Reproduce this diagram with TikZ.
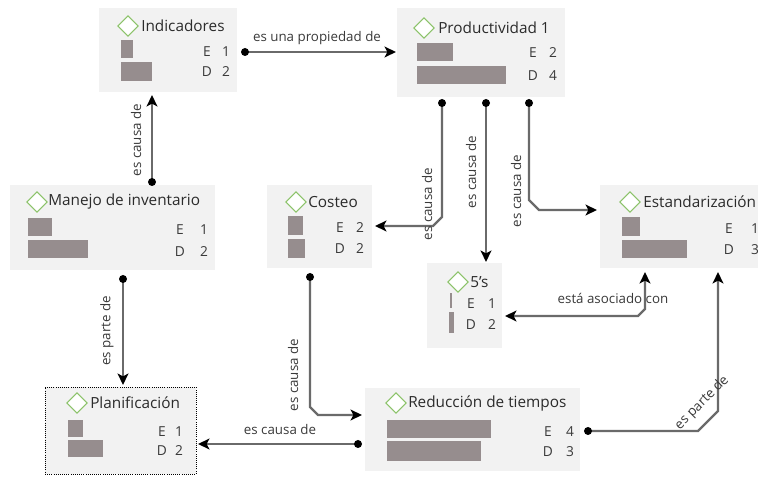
\documentclass[tikz,border=0pt]{standalone}
\usepackage{fontspec}
\setmainfont{Open Sans}
\usetikzlibrary{arrows.meta,fit,calc,shapes.geometric}

\definecolor{boxfill}{HTML}{F2F2F2}
\definecolor{barfill}{HTML}{968D8E}
\definecolor{diamgreen}{HTML}{8CC36A}
\definecolor{linegray}{HTML}{6A6A6A}
\definecolor{txt}{HTML}{2B2B2B}
\definecolor{lbl}{HTML}{3A3A3A}

\tikzset{
  box/.style={fill=boxfill, draw=none, inner sep=0pt},
  selbox/.style={box, draw=black, densely dotted, line width=0.6pt},
  diam/.style={diamond, draw=diamgreen, fill=white, line width=0.8pt,
    inner sep=0pt, minimum width=15.5pt, minimum height=15.5pt},
  title/.style={anchor=west, inner sep=0pt, text=txt,
    font=\fontsize{11.5}{13}\selectfont},
  meas/.style={inner sep=0pt, text=lbl, font=\fontsize{10.3}{12}\selectfont},
  bar/.style={fill=barfill},
  tipshape/.style={},
  conn/.style={draw=linegray, line width=1.6pt,
    -{Stealth[length=8.5pt,width=8pt,inset=2pt,color=black]}},
  both/.style={draw=linegray, line width=1.6pt,
    {Stealth[length=8.5pt,width=8pt,inset=2pt,color=black]}-{Stealth[length=8.5pt,width=8pt,inset=2pt,color=black]}},
  lab/.style={inner sep=0pt, text=lbl, font=\fontsize{10}{12}\selectfont},
}
\newcommand\portdot[1]{\fill[black] (#1) circle[radius=3pt];}

\begin{document}
\begin{tikzpicture}[x=0.75pt,y=-0.75pt]
\clip (0,0) rectangle (758,477);
\fill[white] (0,0) rectangle (758,477);

% ---------- concept boxes ----------
\node[box, fit={(99,8) (237,92)}] (ind) {};
\node[box, fit={(397,8) (565,97)}] (prod) {};
\node[box, fit={(10,185) (215,270)}] (man) {};
\node[box, fit={(267,185) (372,268)}] (cos) {};
\node[box, fit={(427,263) (502,348)}] (five) {};
\node[box, fit={(600,185) (790,268)}] (est) {};
\node[selbox, fit={(45,387) (196,474)}] (plan) {};
\node[box, fit={(365,388) (580,471)}] (red) {};

% ---------- Indicadores ----------
\node[diam] (ind-d) at (128,26) {};
\node[title] (ind-t) at (141,26) {Indicadores};
\fill[bar] (121,40) rectangle (133,58);
\fill[bar] (121,62) rectangle (152,81);
\node[meas] (ind-e) at (207,52) {E}; \node[meas] (ind-en) at (226,52) {1};
\node[meas] (ind-f) at (207,72) {D}; \node[meas] (ind-fn) at (226,72) {2};

% ---------- Productividad 1 ----------
\node[diam] (prod-d) at (424,28) {};
\node[title] (prod-t) at (438,28) {Productividad 1};
\fill[bar] (417,43) rectangle (453,61);
\fill[bar] (417,66) rectangle (506,84);
\node[meas] (prod-e) at (533,53) {E}; \node[meas] (prod-en) at (553,53) {2};
\node[meas] (prod-f) at (533,76) {D}; \node[meas] (prod-fn) at (553,76) {4};

% ---------- Manejo de inventario ----------
\node[diam] (man-d) at (37,202) {};
\node[title] (man-t) at (48,202) {Manejo de inventario};
\fill[bar] (28,218) rectangle (52,236);
\fill[bar] (28,240) rectangle (88,258);
\node[meas] (man-e) at (180,230) {E}; \node[meas] (man-en) at (204,230) {1};
\node[meas] (man-f) at (180,252) {D}; \node[meas] (man-fn) at (204,252) {2};

% ---------- Costeo ----------
\node[diam] (cos-d) at (296,202) {};
\node[title] (cos-t) at (308,202) {Costeo};
\fill[bar] (288,216) rectangle (303,235);
\fill[bar] (288,239) rectangle (305,258);
\node[meas] (cos-e) at (340,228) {E}; \node[meas] (cos-en) at (360,228) {2};
\node[meas] (cos-f) at (340,249) {D}; \node[meas] (cos-fn) at (360,249) {2};

% ---------- 5's ----------
\node[diam] (five-d) at (458,282) {};
\node[title] (five-t) at (470,282) {5's};
\fill[bar] (450,293) rectangle (452,308);
\fill[bar] (449,312) rectangle (454,333);
\node[meas] (five-e) at (471,304) {E}; \node[meas] (five-en) at (492,304) {1};
\node[meas] (five-f) at (471,325) {D}; \node[meas] (five-fn) at (492,325) {2};

% ---------- Estandarización ----------
\node[diam] (est-d) at (630,202) {};
\node[title] (est-t) at (643,202) {Estandarización};
\fill[bar] (622,217) rectangle (640,236);
\fill[bar] (622,240) rectangle (687,258);
\node[meas] (est-e) at (729,229) {E}; \node[meas] (est-en) at (755,229) {1};
\node[meas] (est-f) at (729,250) {D}; \node[meas] (est-fn) at (755,250) {3};

% ---------- Planificación ----------
\node[diam] (plan-d) at (77,403) {};
\node[title] (plan-t) at (90,403) {Planificación};
\fill[bar] (68,420) rectangle (83,437);
\fill[bar] (68,440) rectangle (103,457);
\node[meas] (plan-e) at (162,432) {E}; \node[meas] (plan-en) at (179,432) {1};
\node[meas] (plan-f) at (162,451) {D}; \node[meas] (plan-fn) at (179,451) {2};

% ---------- Reducción de tiempos ----------
\node[diam] (red-d) at (396,403) {};
\node[title] (red-t) at (408,403) {Reducción de tiempos};
\fill[bar] (387,420) rectangle (491,438);
\fill[bar] (387,441) rectangle (481,461);
\node[meas] (red-e) at (548,432) {E}; \node[meas] (red-en) at (570,432) {4};
\node[meas] (red-f) at (548,452) {D}; \node[meas] (red-fn) at (570,452) {3};

% ---------- connector ports ----------
\coordinate (ind-out) at (245,52);   \coordinate (prod-in) at (396,52);
\coordinate (man-up) at (152,182);   \coordinate (ind-in) at (152,95);
\coordinate (prod-o1) at (442,103);  \coordinate (cos-in) at (375,226);
\coordinate (prod-o2) at (486,103);  \coordinate (five-top) at (486,262);
\coordinate (prod-o3) at (529,103);  \coordinate (est-in) at (597,210);
\coordinate (est-b1) at (645,272);   \coordinate (five-in) at (505,316);
\coordinate (man-down) at (123,279); \coordinate (plan-top) at (123,385);
\coordinate (cos-out) at (310,277);  \coordinate (red-in) at (362,415);
\coordinate (red-out) at (358,444);  \coordinate (plan-in) at (198,444);
\coordinate (red-o2) at (588,431);   \coordinate (est-b2) at (718,272);

% ---------- connectors ----------
\draw[conn] (ind-out) -- (prod-in);
\draw[conn] (man-up) -- (ind-in);
\draw[conn] (prod-o1) -- (442,217) -- (433,226) -- (cos-in);
\draw[conn] (prod-o2) -- (five-top);
\draw[conn] (prod-o3) -- (529,200) -- (539,210) -- (est-in);
\draw[both] (est-b1) -- (645,309) -- (638,316) -- (five-in);
\draw[conn] (man-down) -- (plan-top);
\draw[conn] (cos-out) -- (310,407) -- (318,415) -- (red-in);
\draw[conn] (red-out) -- (plan-in);
\draw[conn] (red-o2) -- (698,431) -- (718,411) -- (est-b2);

\portdot{ind-out} \portdot{man-up} \portdot{prod-o1} \portdot{prod-o2}
\portdot{prod-o3} \portdot{man-down} \portdot{cos-out} \portdot{red-out}
\portdot{red-o2}

% ---------- link labels ----------
\node[lab] (l1) at (317,38) {es una propiedad de};
\node[lab, rotate=90] (l2) at (136,140) {es causa de};
\node[lab, rotate=90] (l3) at (427,204) {es causa de};
\node[lab, rotate=90] (l4) at (471,172) {es causa de};
\node[lab, rotate=90] (l5) at (516,191) {es causa de};
\node[lab] (l6) at (613,298) {está asociado con};
\node[lab, rotate=90] (l7) at (107,331) {es parte de};
\node[lab, rotate=90] (l8) at (293,375) {es causa de};
\node[lab] (l9) at (280,430) {es causa de};
\node[lab, rotate=45] (l10) at (702,403) {es parte de};
\end{tikzpicture}
\end{document}
